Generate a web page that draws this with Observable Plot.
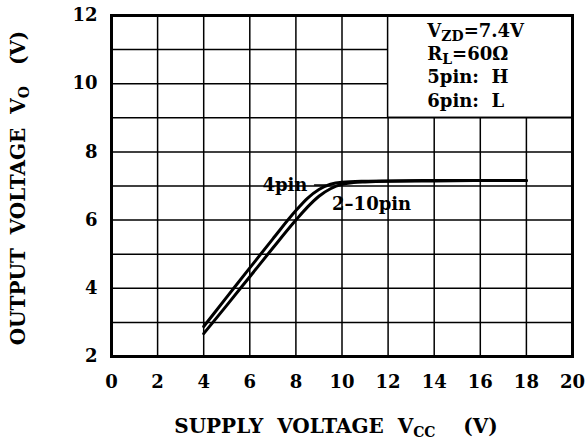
<!DOCTYPE html>
<html><head><meta charset="utf-8">
<script src="https://cdn.jsdelivr.net/npm/d3@7"></script>
<script src="https://cdn.jsdelivr.net/npm/@observablehq/plot@0.6"></script>
<style>
html,body{margin:0;padding:0;background:#fff;}
svg text{white-space:pre;}
</style></head><body><div id="chart"></div>
<script>
const xTicks = [0, 2, 4, 6, 8, 10, 12, 14, 16, 18, 20];
const yTicks = [2, 4, 6, 8, 10, 12];
const yGrid = [2, 3, 4, 5, 6, 7, 8, 9, 10, 11, 12];

const vcc4 = [4, 5, 6, 7, 8, 8.5, 9, 9.5, 10, 11, 12, 14, 16, 18];
const vo4  = [2.88, 3.74, 4.6, 5.45, 6.28, 6.64, 6.9, 7.05, 7.11, 7.14, 7.15, 7.16, 7.16, 7.16];
const vcc210 = [4, 5, 6, 7, 8, 8.5, 9, 9.5, 10, 10.5, 11, 12, 14, 16, 18];
const vo210  = [2.67, 3.5, 4.34, 5.18, 6.0, 6.38, 6.7, 6.92, 7.05, 7.1, 7.12, 7.14, 7.15, 7.16, 7.16];

const legendLines = ["V_{ZD}=7.4V", "R_{L}=60Ω", "5pin:  H", "6pin:  L"];
const legendY = [11.53, 10.85, 10.18, 9.5];
const legendX = 13.7;
const legendBox = [{x1: 12, x2: 20, y1: 9, y2: 12}];

const seriesNames = ["4pin", "2–10pin"];
const seriesLabelX = [8.5, 9.57];
const seriesLabelY = [7.03, 6.47];
const seriesAnchor = ["end", "start"];
const leader = [{x: 8.81, y: 7.03}, {x: 9.28, y: 7.03}];

const xTitle = "SUPPLY  VOLTAGE  V_{CC}    (V)";
const yTitle = "OUTPUT  VOLTAGE  V_{O}   (V)";

const line4 = vcc4.map((x, i) => ({x, y: vo4[i]}));
const line210 = vcc210.map((x, i) => ({x, y: vo210[i]}));
const legendData = legendLines.map((t, i) => ({t, x: legendX, y: legendY[i]}));
const labelData = seriesNames.map((t, i) => ({t, x: seriesLabelX[i], y: seriesLabelY[i], a: seriesAnchor[i]}));

const FS = 18;
const TFS = 20;
const chart = Plot.plot({
  width: 588, height: 445,
  marginLeft: 111, marginRight: 16, marginTop: 15, marginBottom: 89,
  style: {fontFamily: "'DejaVu Serif', serif", fontWeight: "bold", fontSize: FS + "px", background: "#fff", color: "#000"},
  x: {domain: [0, 20]},
  y: {domain: [2, 12]},
  marks: [
    Plot.gridX(xTicks, {stroke: "#000", strokeOpacity: 1, strokeWidth: 1.5}),
    Plot.gridY(yGrid, {stroke: "#000", strokeOpacity: 1, strokeWidth: 1.5}),
    Plot.rect(legendBox, {x1: "x1", x2: "x2", y1: "y1", y2: "y2", fill: "#fff", stroke: "#000", strokeWidth: 1.5}),
    Plot.line(line4, {x: "x", y: "y", stroke: "#000", strokeWidth: 3, curve: "monotone-x"}),
    Plot.line(line210, {x: "x", y: "y", stroke: "#000", strokeWidth: 3, curve: "monotone-x"}),
    Plot.line(leader, {x: "x", y: "y", stroke: "#000", strokeWidth: 1.5}),
    Plot.text(labelData.filter(d => d.a === "end"), {x: "x", y: "y", text: "t", textAnchor: "end", lineAnchor: "middle", fill: "#000"}),
    Plot.text(labelData.filter(d => d.a === "start"), {x: "x", y: "y", text: "t", textAnchor: "start", lineAnchor: "middle", fill: "#000"}),
    Plot.text(legendData, {x: "x", y: "y", text: "t", textAnchor: "start", lineAnchor: "middle", fill: "#000"}),
    Plot.frame({stroke: "#000", strokeWidth: 3}),
    Plot.axisX(xTicks, {tickSize: 0, tickPadding: 19, label: null, fill: "#000"}),
    Plot.axisY(yTicks, {tickSize: 0, tickPadding: 14, label: null, fill: "#000"}),
    Plot.text([xTitle], {frameAnchor: "bottom", dx: -6, dy: 70, fontSize: TFS, lineAnchor: "middle", textAnchor: "middle", fill: "#000"}),
    Plot.text([yTitle], {frameAnchor: "left", dx: -93, dy: 2, fontSize: TFS, rotate: -90, lineAnchor: "middle", textAnchor: "middle", fill: "#000"})
  ]
});

// subscripts
const NS = "http://www.w3.org/2000/svg";
chart.querySelectorAll("text").forEach(t => {
  if (t.querySelector("tspan")) return;
  const s = t.textContent;
  if (!s.includes("_{")) return;
  const big = parseFloat(getComputedStyle(document.body).fontSize) && (t.getAttribute("font-size") ? parseFloat(t.getAttribute("font-size")) : FS);
  const small = Math.round(big * 0.76);
  const shift = Math.round(big * 0.24);
  t.textContent = "";
  let shifted = false;
  s.split(/(_\{[^}]*\})/).forEach(p => {
    if (!p) return;
    const ts = document.createElementNS(NS, "tspan");
    if (p.startsWith("_{")) {
      ts.textContent = p.slice(2, -1);
      ts.setAttribute("font-size", small + "px");
      ts.setAttribute("dy", String(shift));
      shifted = true;
    } else {
      ts.textContent = p;
      if (shifted) { ts.setAttribute("dy", String(-shift)); shifted = false; }
    }
    t.appendChild(ts);
  });
});
document.getElementById("chart").appendChild(chart);
</script>
</body></html>
